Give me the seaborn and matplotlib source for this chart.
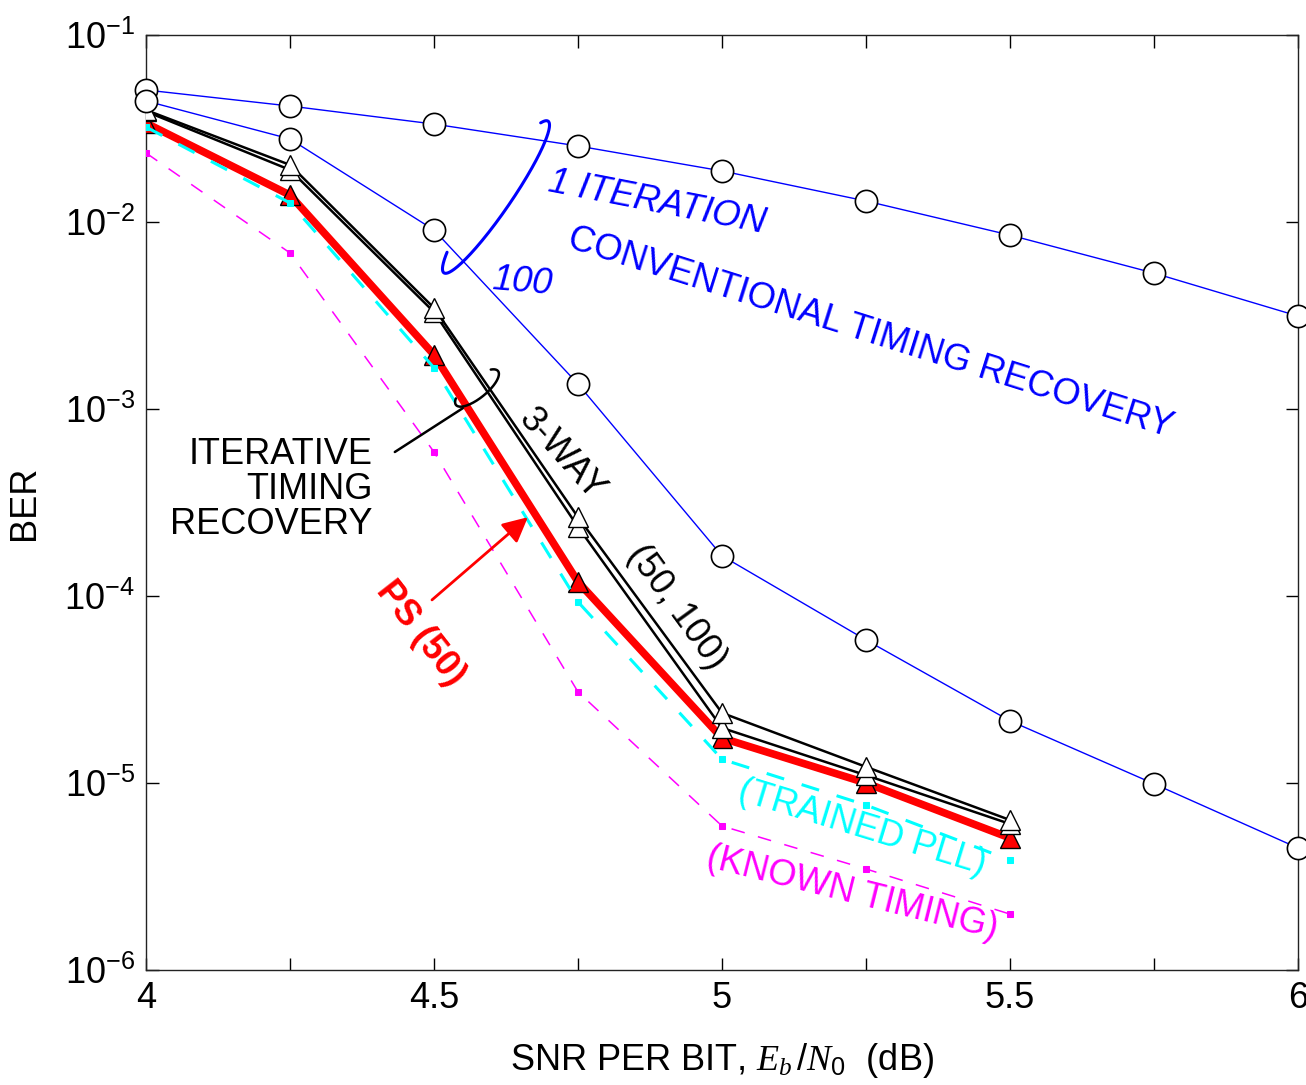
import numpy as np
import pandas as pd
import matplotlib
matplotlib.use("Agg")
import matplotlib.pyplot as plt
import seaborn as sns

# --- data -------------------------------------------------------------------
snr_full = [4.0, 4.25, 4.5, 4.75, 5.0, 5.25, 5.5, 5.75, 6.0]
snr_part = [4.0, 4.25, 4.5, 4.75, 5.0, 5.25, 5.5]

ber_conv_1 = [0.0508, 0.0417, 0.0334, 0.0255, 0.01875, 0.01295, 0.00851, 0.00533, 0.00314]
ber_conv_100 = [0.0444, 0.0278, 0.00906, 0.00136, 1.64e-4, 5.82e-5, 2.15e-5, 9.9e-6, 4.49e-6]

ber_3way_50 = [0.0397, 0.0202, 0.00347, 2.64e-4, 2.37e-5, 1.22e-5, 6.34e-6]
ber_3way_100 = [0.0390, 0.0190, 0.00330, 2.34e-4, 1.97e-5, 1.10e-5, 6.04e-6]
ber_ps_50 = [0.0338, 0.01393, 0.00195, 1.19e-4, 1.74e-5, 1.0e-5, 5.08e-6]
ber_trained_pll = [0.0322, 0.01264, 0.00166, 9.3e-5, 1.34e-5, 7.62e-6, 3.87e-6]
ber_known_timing = [0.0234, 0.00683, 5.89e-4, 3.07e-5, 5.89e-6, 3.47e-6, 1.99e-6]

x_ticks = [4.0, 4.25, 4.5, 4.75, 5.0, 5.25, 5.5, 5.75, 6.0]
x_tick_labels = ["4", "", "4.5", "", "5", "", "5.5", "", "6"]
y_ticks = [1e-6, 1e-5, 1e-4, 1e-3, 1e-2, 1e-1]

# --- style ------------------------------------------------------------------
sns.set_theme(style="ticks")
plt.rcParams["font.family"] = ["Liberation Sans", "DejaVu Sans"]
plt.rcParams["mathtext.fontset"] = "custom"
plt.rcParams["mathtext.rm"] = "Liberation Sans"
plt.rcParams["mathtext.it"] = "Liberation Serif:italic"
plt.rcParams["mathtext.bf"] = "Liberation Sans:bold"
for key in ("text.color", "axes.labelcolor", "xtick.color", "ytick.color",
            "xtick.labelcolor", "ytick.labelcolor"):
    plt.rcParams[key] = "black"

FS = 26
BLUE, RED, CYAN, MAGENTA = "#0000FF", "#FF0000", "#00FFFF", "#FF00FF"

fig = plt.figure(figsize=(13.06, 10.85), dpi=100)
ax = fig.add_axes([146 / 1306, 115 / 1085, 1152 / 1306, 935 / 1085])

# reference curves (dashed, small squares)
sns.lineplot(x=snr_part, y=ber_known_timing, ax=ax, color=MAGENTA, lw=1.1,
             linestyle=(0, (9, 9)), marker="s", markersize=4,
             markerfacecolor=MAGENTA, markeredgecolor=MAGENTA, zorder=3)
sns.lineplot(x=snr_part, y=ber_ps_50, ax=ax, color=RED, lw=5.5,
             marker="^", markersize=14, markerfacecolor=RED,
             markeredgecolor="black", markeredgewidth=1.0, zorder=4)
sns.lineplot(x=snr_part, y=ber_trained_pll, ax=ax, color=CYAN, lw=2.2,
             linestyle=(0, (6, 6)), marker="s", markersize=4,
             markerfacecolor=CYAN, markeredgecolor=CYAN, zorder=5)
for ber in (ber_3way_100, ber_3way_50):
    sns.lineplot(x=snr_part, y=ber, ax=ax, color="black", lw=1.8,
                 marker="^", markersize=14, markerfacecolor="white",
                 markeredgecolor="black", markeredgewidth=1.0, zorder=6)
for ber in (ber_conv_1, ber_conv_100):
    sns.lineplot(x=snr_full, y=ber, ax=ax, color=BLUE, lw=1.0,
                 marker="o", markersize=16, markerfacecolor="white",
                 markeredgecolor="black", markeredgewidth=1.2, zorder=7,
                 clip_on=False)

# --- axes -------------------------------------------------------------------
ax.set_yscale("log")
ax.set_xlim(4, 6)
ax.set_ylim(1e-6, 1e-1)
ax.set_xticks(x_ticks)
ax.set_xticklabels(x_tick_labels)
ax.set_yticks(y_ticks)
ax.yaxis.set_minor_locator(matplotlib.ticker.NullLocator())
ax.tick_params(axis="both", which="major", direction="in", length=9, width=1,
               top=True, right=True, labelsize=FS, pad=8, colors="black")
for sp in ax.spines.values():
    sp.set_linewidth(1.0)
    sp.set_color("#222222")
    sp.set_visible(True)

ax.set_xlabel(r"SNR PER BIT, $E_b\,/N_0$  (dB)", fontsize=FS, labelpad=18)
ax.set_ylabel("BER", fontsize=FS, labelpad=16)


# --- annotations ------------------------------------------------------------
def px_to_axes(px, py):
    return (px - 146) / 1152, (970 - py) / 935


def draw_arc(cx, cy, ux, uy, a, b, t0, t1, color, lw):
    t = np.linspace(t0, t1, 200)
    vx, vy = -uy, ux
    if vx < 0:
        vx, vy = -vx, -vy
    px = cx + a * np.cos(t) * ux + b * np.sin(t) * vx
    py = cy + a * np.cos(t) * uy + b * np.sin(t) * vy
    xs, ys = px_to_axes(px, py)
    ax.plot(xs, ys, color=color, lw=lw, transform=ax.transAxes, zorder=8,
            solid_capstyle="round")


# brackets grouping the curves
n = np.hypot(103, 150)
draw_arc(496, 197, 103 / n, -150 / n, 92, 15, -0.35, np.pi + 0.65, BLUE, 2.2)
n = np.hypot(42, 34)
draw_arc(477, 388, 42 / n, -34 / n, 27, 10, -0.6, np.pi + 0.55, "black", 1.8)

ax.text(4.887, 0.01264, "1 ITERATION", color=BLUE, fontsize=FS, style="italic",
        rotation=-11, ha="center", va="center", rotation_mode="anchor", zorder=9)
ax.text(4.653, 4.78e-3, "100", color=BLUE, fontsize=FS, style="italic",
        rotation=-5, ha="center", va="center", rotation_mode="anchor", zorder=9)
ax.text(5.257, 2.55e-3, "CONVENTIONAL TIMING RECOVERY", color=BLUE, fontsize=FS,
        rotation=-17.5, ha="center", va="center", rotation_mode="anchor", zorder=9)

ax.text(4.394, 3.69e-4, "ITERATIVE\nTIMING\nRECOVERY", color="black", fontsize=FS,
        ha="right", va="center", multialignment="right", linespacing=1.0, zorder=9)
ax.plot([4.432, 4.550], [5.89e-4, 1.01e-3], color="black", lw=1.8, zorder=8)

ax.text(4.722, 5.67e-4, "3-WAY", color="black", fontsize=FS, rotation=-48,
        ha="center", va="center", rotation_mode="anchor", zorder=9)
ax.text(4.922, 8.73e-5, "(50, 100)", color="black", fontsize=FS, rotation=-54,
        ha="center", va="center", rotation_mode="anchor", zorder=9)

ax.text(4.476, 6.34e-5, "PS (50)", color=RED, fontsize=FS, fontweight="bold",
        rotation=-52, ha="center", va="center", rotation_mode="anchor", zorder=9)
ax.annotate("", xy=(4.663, 2.64e-4), xytext=(4.4965, 9.53e-5),
            arrowprops=dict(arrowstyle="-|>", color=RED, lw=2.0,
                            mutation_scale=38, shrinkA=0, shrinkB=0), zorder=9)

ax.text(5.243, 5.74e-6, "(TRAINED PLL)", color=CYAN, fontsize=FS, rotation=-17,
        ha="center", va="center", rotation_mode="anchor", zorder=9)
ax.text(5.226, 2.58e-6, "(KNOWN TIMING)", color=MAGENTA, fontsize=FS, rotation=-14,
        ha="center", va="center", rotation_mode="anchor", zorder=9)

fig.savefig("out.png", dpi=100)
